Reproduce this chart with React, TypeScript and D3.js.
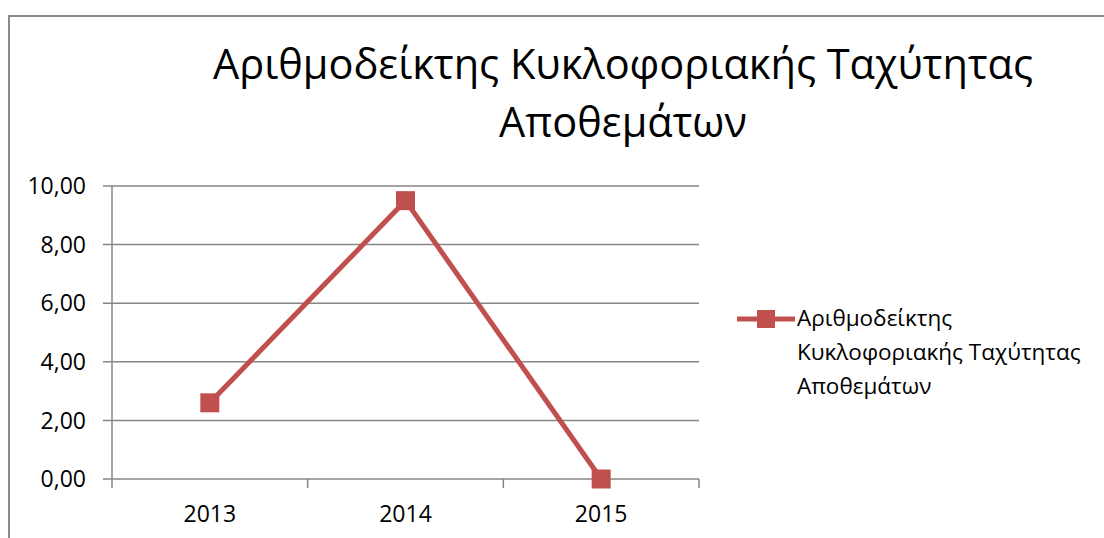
import React from "react";
import * as d3 from "d3";

const categories: string[] = ["2013", "2014", "2015"];
const values: number[] = [2.6, 9.5, 0.0];
const yTicks: number[] = [0, 2, 4, 6, 8, 10];
const titleLines: string[] = ["Αριθμοδείκτης Κυκλοφοριακής Ταχύτητας", "Αποθεμάτων"];
const legendLines: string[] = ["Αριθμοδείκτης", "Κυκλοφοριακής Ταχύτητας", "Αποθεμάτων"];

const W = 1104;
const H = 538;
const FONT = "'Open Sans', 'DejaVu Sans', sans-serif";
const RED = "#C0504D";
const GRID = "#868686";

export default function App() {
  const x = d3.scaleBand<string>().domain(categories).range([112, 699]);
  const y = d3.scaleLinear().domain([0, 10]).range([479, 186]);
  const line = d3
    .line<number>()
    .x((_, i) => (x(categories[i]) as number) + x.bandwidth() / 2)
    .y((d) => y(d));
  const fmt = (v: number) => v.toFixed(2).replace(".", ",");
  const ms = 19;

  return (
    <svg
      width={W}
      height={H}
      style={{ position: "absolute", left: 0, top: 0, background: "#fff" }}
      fontFamily={FONT}
    >
      <rect x={0} y={0} width={W} height={H} fill="#fff" />
      <rect x={9} y={16} width={W + 50} height={H + 50} fill="none" stroke="#898989" strokeWidth={2} />

      {titleLines.map((t, i) => (
        <text key={i} x={623} y={79 + i * 58} textAnchor="middle" fontSize={41.5} fill="#000">
          {t}
        </text>
      ))}

      {yTicks.map((t) => (
        <g key={t}>
          <line x1={103} x2={699} y1={y(t)} y2={y(t)} stroke={GRID} strokeWidth={1.5} />
          <text x={86} y={y(t)} dy="0.36em" textAnchor="end" fontSize={23} fill="#000">
            {fmt(t)}
          </text>
        </g>
      ))}
      <line x1={112} x2={112} y1={y(10)} y2={y(0)} stroke={GRID} strokeWidth={1.5} />
      {categories.concat(["end"]).map((c, i) => {
        const xx = i < categories.length ? (x(c) as number) : x.range()[1];
        return <line key={c} x1={xx} x2={xx} y1={y(0)} y2={y(0) + 9} stroke={GRID} strokeWidth={1.5} />;
      })}
      {categories.map((c) => (
        <text
          key={c}
          x={(x(c) as number) + x.bandwidth() / 2}
          y={522}
          textAnchor="middle"
          fontSize={23}
          fill="#000"
        >
          {c}
        </text>
      ))}

      <path d={line(values) as string} fill="none" stroke={RED} strokeWidth={5} strokeLinejoin="miter" />
      {values.map((v, i) => (
        <rect
          key={i}
          x={(x(categories[i]) as number) + x.bandwidth() / 2 - ms / 2}
          y={y(v) - ms / 2}
          width={ms}
          height={ms}
          fill={RED}
        />
      ))}

      <line x1={737} x2={795} y1={319} y2={319} stroke={RED} strokeWidth={5} />
      <rect x={766 - 9} y={319 - 9} width={18} height={18} fill={RED} />
      {legendLines.map((t, i) => (
        <text key={i} x={797} y={326 + i * 34} fontSize={22.5} fill="#000">
          {t}
        </text>
      ))}
    </svg>
  );
}
